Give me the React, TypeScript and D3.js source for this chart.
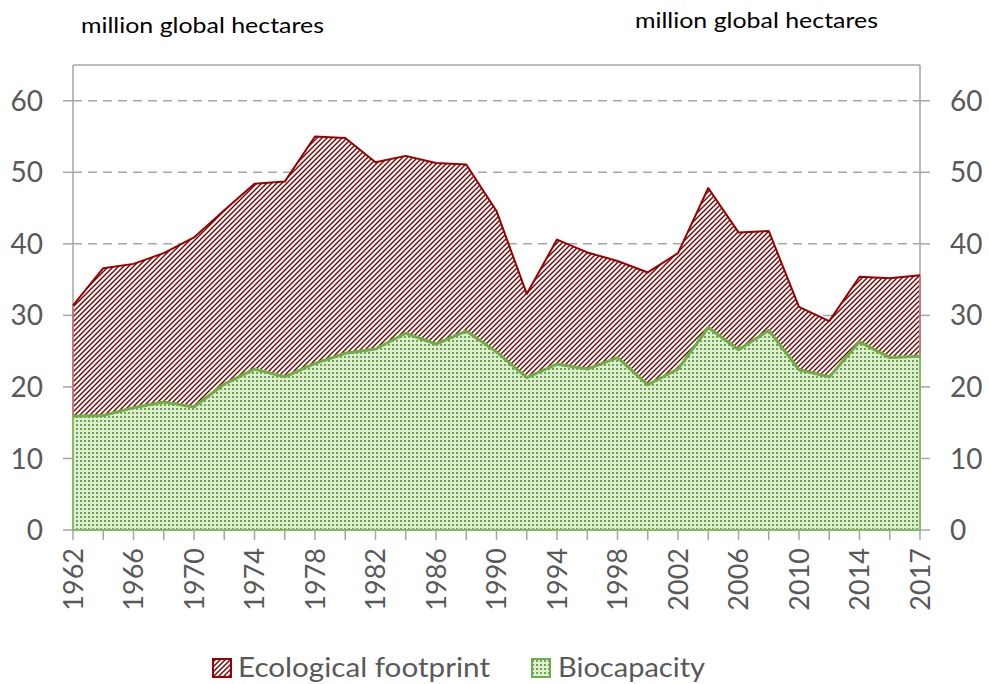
import React from "react";
import * as d3 from "d3";

const years = ["1962","1964","1966","1968","1970","1972","1974","1976","1978","1980","1982","1984","1986","1988","1990","1992","1994","1996","1998","2000","2002","2004","2006","2008","2010","2012","2014","2016","2017"];
const footprint = [31.4,36.6,37.2,38.7,40.9,44.7,48.4,48.7,55.0,54.8,51.4,52.3,51.3,51.1,44.6,33.0,40.6,38.8,37.6,36.0,38.7,47.8,41.6,41.8,31.2,29.2,35.4,35.2,35.6];
const biocapacity = [15.9,16.0,17.1,17.9,17.2,20.4,22.5,21.4,23.3,24.7,25.3,27.5,26.0,27.8,24.9,21.3,23.2,22.5,24.1,20.3,22.5,28.3,25.2,27.9,22.4,21.4,26.3,24.1,24.3];
const yTicks = [0,10,20,30,40,50,60];
const unitLabel = "million global hectares";
const seriesNames = ["Ecological footprint","Biocapacity"];

const W = 989, H = 684;
const left = 73, right = 920, top = 65, bottom = 530;
const FONT = "Lato, 'Open Sans', sans-serif";
const GRAY = "#a6a6a6";
const TEXT = "#595959";
const RED = "#9a0000";
const GREEN = "#70ad47";

export default function App() {
  const x = d3.scalePoint<string>().domain(years).range([left, right]);
  const y = d3.scaleLinear().domain([0, 65]).range([bottom, top]);
  const idx = years.map((_, i) => i);

  const areaF = d3.area<number>().x(i => x(years[i])!).y0(y(0)).y1(i => y(footprint[i]));
  const lineF = d3.line<number>().x(i => x(years[i])!).y(i => y(footprint[i]));
  const areaB = d3.area<number>().x(i => x(years[i])!).y0(y(0)).y1(i => y(biocapacity[i]));
  const lineB = d3.line<number>().x(i => x(years[i])!).y(i => y(biocapacity[i]));

  return (
    <svg width={W} height={H} style={{ position: "absolute", left: 0, top: 0, display: "block", background: "#fff" }}>
      <defs>
        <pattern id="hatch" width="5" height="5" patternUnits="userSpaceOnUse">
          <rect width="5" height="5" fill="#fff" />
          <path d="M-1,1 L1,-1 M0,5 L5,0 M4,6 L6,4" stroke="#7a0000" strokeWidth="1.4" />
        </pattern>
        <pattern id="dots" width="4" height="4" patternUnits="userSpaceOnUse">
          <rect width="4" height="4" fill="#deedd3" />
          <rect x="0" y="0" width="2" height="2" fill="#6aa843" />
        </pattern>
      </defs>

      {/* unit labels */}
      <text x={81} y={33} fontFamily={FONT} fontSize={22} fill="#000" textLength={243} lengthAdjust="spacingAndGlyphs">{unitLabel}</text>
      <text x={635} y={28} fontFamily={FONT} fontSize={22} fill="#000" textLength={243} lengthAdjust="spacingAndGlyphs">{unitLabel}</text>

      {/* frame */}
      <line x1={left} x2={right} y1={top} y2={top} stroke={GRAY} strokeWidth={1.5} />
      <line x1={left} x2={left} y1={top} y2={bottom} stroke={GRAY} strokeWidth={1.5} />
      <line x1={right} x2={right} y1={top} y2={bottom} stroke={GRAY} strokeWidth={1.5} />

      {/* gridlines and y ticks */}
      {yTicks.map(t => (
        <g key={t}>
          {t > 0 && <line x1={left} x2={right} y1={y(t)} y2={y(t)} stroke={GRAY} strokeWidth={1.5} strokeDasharray="9,6" />}
          <line x1={left - 10} x2={left} y1={y(t)} y2={y(t)} stroke={GRAY} strokeWidth={1.5} />
          <line x1={right} x2={right + 10} y1={y(t)} y2={y(t)} stroke={GRAY} strokeWidth={1.5} />
          <text x={43} y={y(t)} dy="0.36em" textAnchor="end" fontFamily={FONT} fontSize={28} fill={TEXT}>{t}</text>
          <text x={950} y={y(t)} dy="0.36em" textAnchor="start" fontFamily={FONT} fontSize={28} fill={TEXT}>{t}</text>
        </g>
      ))}

      {/* x ticks */}
      {years.map(yr => (
        <line key={yr} x1={x(yr)} x2={x(yr)} y1={bottom} y2={bottom + 10} stroke={GRAY} strokeWidth={1.5} />
      ))}
      {years.map((yr, i) => i % 2 === 0 ? (
        <text key={yr} transform={`translate(${x(yr)},548) rotate(-90)`} dy="0.36em" textAnchor="end" fontFamily={FONT} fontSize={27} fill={TEXT}>{yr}</text>
      ) : null)}

      {/* footprint area */}
      <path d={areaF(idx)!} fill="url(#hatch)" />
      <line x1={left} x2={left} y1={y(footprint[0])} y2={y(biocapacity[0])} stroke="#c07a7a" strokeWidth={2} />
      <line x1={right} x2={right} y1={y(footprint[footprint.length - 1])} y2={y(biocapacity[biocapacity.length - 1])} stroke="#c07a7a" strokeWidth={2} />
      <path d={lineF(idx)!} fill="none" stroke={RED} strokeWidth={2} strokeLinejoin="round" />

      {/* biocapacity area */}
      <path d={areaB(idx)!} fill="url(#dots)" stroke="#86bb66" strokeWidth={2} />
      <path d={lineB(idx)!} fill="none" stroke={GREEN} strokeWidth={3} strokeLinejoin="round" />

      {/* legend */}
      <rect x={213} y={659} width={18} height={18} fill="url(#hatch)" stroke={RED} strokeWidth={2} />
      <text x={238} y={677} fontFamily={FONT} fontSize={27} fill={TEXT} textLength={252} lengthAdjust="spacingAndGlyphs">{seriesNames[0]}</text>
      <rect x={532} y={659} width={18} height={18} fill="url(#dots)" stroke={GREEN} strokeWidth={2} />
      <text x={558} y={677} fontFamily={FONT} fontSize={27} fill={TEXT} textLength={147} lengthAdjust="spacingAndGlyphs">{seriesNames[1]}</text>
    </svg>
  );
}
